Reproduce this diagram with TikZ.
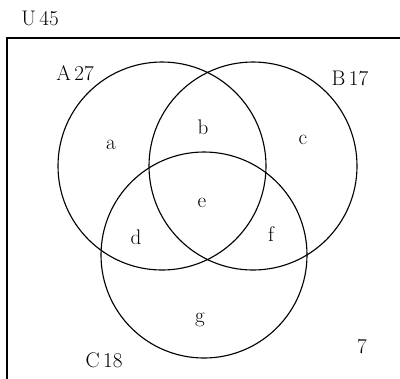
\documentclass[tikz,border=0pt]{standalone}
\usepackage{tikz}
\usetikzlibrary{positioning}
\tikzset{
  every node/.style={inner sep=2pt}
}

\begin{document}
\begin{tikzpicture}[
    x=0.025cm, y=-0.025cm,
    font=\fontsize{15}{17}\selectfont,
    set/.style={circle, draw, line width=0.8pt, minimum size=208*0.025cm, inner sep=0pt},
    region/.style={anchor=center},
    border/.style={draw, line width=0.8pt}
]
    \useasboundingbox (0,0) rectangle (400,378);
    \clip (0,0) rectangle (400,378);

    % universe
    \node[anchor=center] (univ) at (40,18) {U\,45};
    \draw[border] (7,38) rectangle (410,390);

    % the three sets
    \node[set] (setA) at (162,166) {};
    \node[set] (setB) at (253,166) {};
    \node[set, minimum size=206*0.025cm] (setC) at (204,255) {};

    \node[anchor=center] (labA) at (75,73) {A\,27};
    \node[anchor=center] (labB) at (350,78) {B\,17};
    \node[anchor=center] (labC) at (104,360) {C\,18};
    \node[anchor=center] (outside) at (362,347) {7};

    % regions
    \node[region] (ra) at (111,145) {a};
    \node[region] (rb) at (203,127) {b};
    \node[region] (rc) at (303,140) {c};
    \node[region] (rd) at (136,237) {d};
    \node[region] (re) at (202,203) {e};
    \node[region] (rf) at (271,234) {f};
    \node[region] (rg) at (200,320) {g};

\end{tikzpicture}
\end{document}
